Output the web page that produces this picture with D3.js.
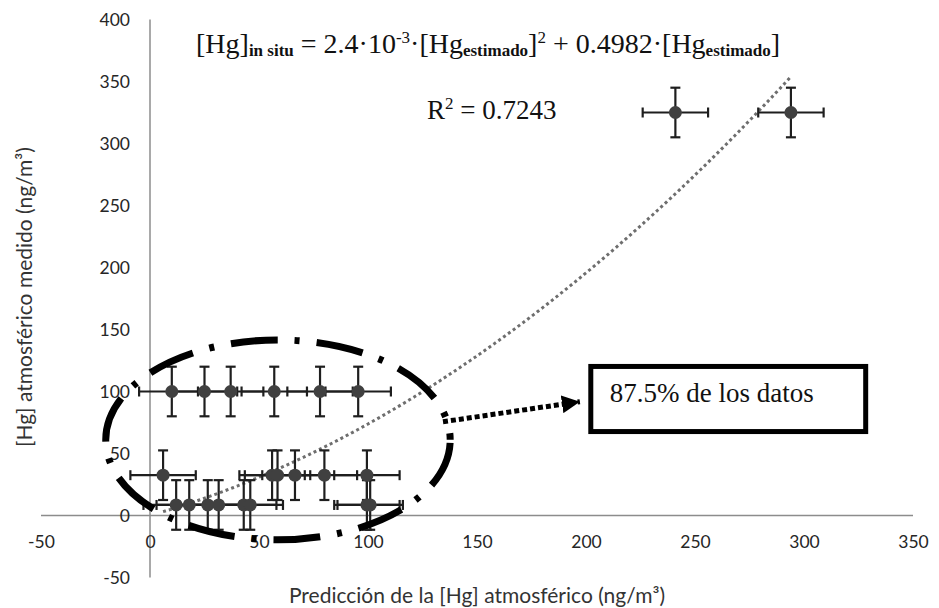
<!DOCTYPE html>
<html>
<head>
<meta charset="utf-8">
<script src="https://cdn.jsdelivr.net/npm/d3@7"></script>
<style>
  body { margin: 0; background: #fff; }
  .tick text { font-family: Lato, "Open Sans", sans-serif; font-size: 17.5px; fill: #262626; }
  .axisTitle { font-family: Lato, "Open Sans", sans-serif; font-size: 21px; fill: #333; }
  .eq { font-family: "Liberation Serif", "Times New Roman", serif; fill: #111; }
</style>
</head>
<body>
<div id="chart"></div>
<script>
//Data: predicted [Hg] (x), measured [Hg] (y) and their error bars
const predicted = [10, 25, 37, 57, 78, 95.5,
                   6, 56, 58.5, 66.5, 80, 99.5,
                   12, 18, 26.5, 31.5, 43, 46, 99.5, 101,
                   241, 294];
const measured = [100, 100, 100, 100, 100, 100,
                  32.5, 32.5, 32.5, 32.5, 32.5, 32.5,
                  8.5, 8.5, 8.5, 8.5, 8.5, 8.5, 8.5, 8.5,
                  325, 325];
const errX = [15, 15, 15, 15, 15, 15, 15, 15, 15, 15, 15, 15, 15, 15, 15, 15, 15, 15, 15, 15, 15, 15];
const errY = [20, 20, 20, 20, 20, 20, 20, 20, 20, 20, 20, 20, 20, 20, 20, 20, 20, 20, 20, 20, 20, 20];

//Tick labels
const xTicks = [-50, 0, 50, 100, 150, 200, 250, 300, 350];
const yTicks = [-50, 0, 50, 100, 150, 200, 250, 300, 350, 400];

//Trendline coefficients (shown in the equation)
const coefA = 0.0024;
const coefB = 0.4982;

//Annotation positions, in data units
const ellipseCenter = [58.7, 61];
const ellipseRadius = [79, 80.6];
const arrowFrom = [134.4, 75.6];
const arrowTo = [197.2, 91.8];
const boxCorners = [[202.2, 120.2], [328.3, 67.7]];

const width = 939;
const height = 608;

const svg = d3.select("#chart").append("svg")
  .attr("width", width)
  .attr("height", height);

//Scales
const x = d3.scaleLinear().domain([-50, 350]).range([41, 913]);
const y = d3.scaleLinear().domain([-50, 400]).range([577.5, 19.5]);

//Axis lines cross at zero
const axisColor = "#8c8c8c";
svg.append("line")
  .attr("x1", x(-50)).attr("x2", x(350))
  .attr("y1", y(0)).attr("y2", y(0))
  .attr("stroke", axisColor).attr("stroke-width", 1.5);
svg.append("line")
  .attr("x1", x(0)).attr("x2", x(0))
  .attr("y1", y(-50)).attr("y2", y(400))
  .attr("stroke", axisColor).attr("stroke-width", 1.5);

//Tick labels via d3 axes (no domain, no tick marks), plain hyphen for negatives
const xAxis = d3.axisBottom(x).tickValues(xTicks).tickSize(0).tickPadding(0).tickFormat(d => String(d));
svg.append("g")
  .attr("transform", `translate(0,${y(0) + 20})`)
  .call(xAxis)
  .call(g => g.select(".domain").remove());

const yAxis = d3.axisLeft(y).tickValues(yTicks).tickSize(0).tickPadding(0).tickFormat(d => String(d));
svg.append("g")
  .attr("transform", `translate(${x(0) - 20},0)`)
  .call(yAxis)
  .call(g => g.select(".domain").remove());

//Axis titles
svg.append("text").attr("class", "axisTitle")
  .attr("x", 477).attr("y", 603)
  .attr("text-anchor", "middle")
  .text("Predicción de la [Hg] atmosférico (ng/m³)");

svg.append("text").attr("class", "axisTitle")
  .attr("transform", "translate(32,297) rotate(-90)")
  .attr("text-anchor", "middle")
  .text("[Hg] atmosférico medido (ng/m³)");

//Trendline, drawn from min x to max x
const xmin = d3.min(predicted), xmax = d3.max(predicted);
const trend = d3.range(xmin, xmax + 0.5, 1).map(v => [v, coefA * v * v + coefB * v]);
svg.append("path")
  .datum(trend)
  .attr("fill", "none")
  .attr("stroke", "#6e6e6e")
  .attr("stroke-width", 3)
  .attr("stroke-dasharray", "3,3")
  .attr("d", d3.line().x(d => x(d[0])).y(d => y(d[1])));

//Points
const points = predicted.map((p, i) => ({px: p, py: measured[i], ex: errX[i], ey: errY[i]}));
const cap = 5;
const bars = svg.append("g").attr("stroke", "#1e1e1e").attr("stroke-width", 2.2);

points.forEach(d => {
  //horizontal error bar
  bars.append("line")
    .attr("x1", x(d.px - d.ex)).attr("x2", x(d.px + d.ex))
    .attr("y1", y(d.py)).attr("y2", y(d.py));
  bars.append("line")
    .attr("x1", x(d.px - d.ex)).attr("x2", x(d.px - d.ex))
    .attr("y1", y(d.py) - cap).attr("y2", y(d.py) + cap);
  bars.append("line")
    .attr("x1", x(d.px + d.ex)).attr("x2", x(d.px + d.ex))
    .attr("y1", y(d.py) - cap).attr("y2", y(d.py) + cap);
  //vertical error bar
  bars.append("line")
    .attr("x1", x(d.px)).attr("x2", x(d.px))
    .attr("y1", y(d.py - d.ey)).attr("y2", y(d.py + d.ey));
  bars.append("line")
    .attr("x1", x(d.px) - cap).attr("x2", x(d.px) + cap)
    .attr("y1", y(d.py - d.ey)).attr("y2", y(d.py - d.ey));
  bars.append("line")
    .attr("x1", x(d.px) - cap).attr("x2", x(d.px) + cap)
    .attr("y1", y(d.py + d.ey)).attr("y2", y(d.py + d.ey));
});

svg.append("g").selectAll("circle").data(points).join("circle")
  .attr("cx", d => x(d.px))
  .attr("cy", d => y(d.py))
  .attr("r", 6.5)
  .attr("fill", "#404040");

//Dash-dot ellipse round the cluster
svg.append("ellipse")
  .attr("cx", x(ellipseCenter[0]))
  .attr("cy", y(ellipseCenter[1]))
  .attr("rx", x(ellipseRadius[0]) - x(0))
  .attr("ry", y(0) - y(ellipseRadius[1]))
  .attr("fill", "none")
  .attr("stroke", "#000")
  .attr("stroke-width", 7)
  .attr("stroke-dasharray", "47,17,5,17")
  .attr("stroke-dashoffset", -3);

//Dotted arrow to the label box
svg.append("defs").append("marker")
  .attr("id", "head")
  .attr("viewBox", "0 0 10 10")
  .attr("refX", 10).attr("refY", 5)
  .attr("markerUnits", "userSpaceOnUse")
  .attr("markerWidth", 18).attr("markerHeight", 18)
  .attr("orient", "auto")
  .append("path").attr("d", "M0,0L10,5L0,10Z").attr("fill", "#000");

svg.append("line")
  .attr("x1", x(arrowFrom[0])).attr("y1", y(arrowFrom[1]))
  .attr("x2", x(arrowTo[0])).attr("y2", y(arrowTo[1]))
  .attr("stroke", "#000")
  .attr("stroke-width", 5)
  .attr("stroke-dasharray", "5,3")
  .attr("marker-end", "url(#head)");

//Label box
svg.append("rect")
  .attr("x", x(boxCorners[0][0]))
  .attr("y", y(boxCorners[0][1]))
  .attr("width", x(boxCorners[1][0]) - x(boxCorners[0][0]))
  .attr("height", y(boxCorners[1][1]) - y(boxCorners[0][1]))
  .attr("fill", "#fff")
  .attr("stroke", "#000")
  .attr("stroke-width", 5);

svg.append("text").attr("class", "eq")
  .attr("x", x(boxCorners[0][0]) + 19)
  .attr("y", 401.5)
  .style("font-size", "27px")
  .text("87.5% de los datos");

//Equation and R²
const eq = svg.append("text").attr("class", "eq")
  .attr("x", 196).attr("y", 53)
  .style("font-size", "28px");
const sub = {"font-size": "17px", "font-weight": "bold", "baseline-shift": "-3px"};
const sup = {"font-size": "17px", "baseline-shift": "10px"};
function part(t, s) {
  const ts = eq.append("tspan").text(t);
  if (s) Object.entries(s).forEach(([k, v]) => ts.style(k, v));
}
part("[Hg]");
part("in situ", sub);
part(" = 2.4·10");
part("-3", sup);
part("·[Hg");
part("estimado", sub);
part("]");
part("2", sup);
part(" + 0.4982·[Hg");
part("estimado", sub);
part("]");

const r2 = svg.append("text").attr("class", "eq")
  .attr("x", 427).attr("y", 119)
  .style("font-size", "27px");
r2.append("tspan").text("R");
r2.append("tspan").text("2").style("font-size", "17px").style("baseline-shift", "10px");
r2.append("tspan").text(" = 0.7243");
</script>
</body>
</html>
